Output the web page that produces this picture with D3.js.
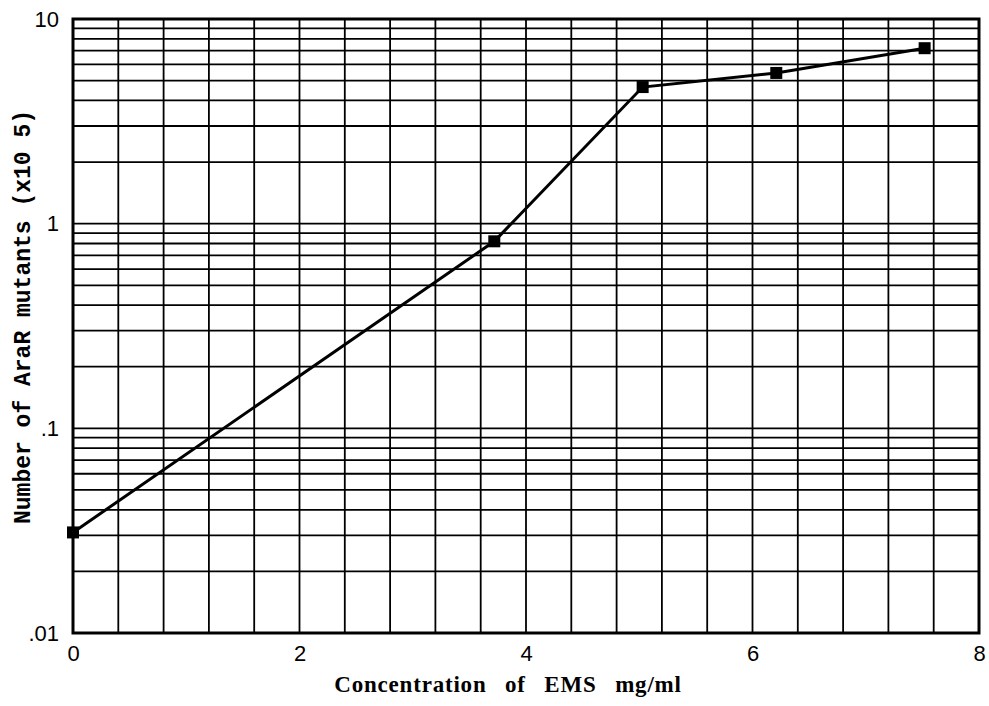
<!DOCTYPE html>
<html>
<head>
<meta charset="utf-8">
<script src="https://cdn.jsdelivr.net/npm/d3@7"></script>
<style>
    body { margin: 0; background: #fff; }
    svg { display: block; }
</style>
</head>
<body>
<svg id="chart" width="989" height="706"></svg>
<script>
    // EMS concentration (mg/ml) vs AraR mutants (x10^5)
    var concentration = [0, 3.72, 5.03, 6.21, 7.52];
    var mutants = [0.031, 0.82, 4.65, 5.45, 7.2];

    var xTicks = [0, 2, 4, 6, 8];
    var yTicks = [0.01, 0.1, 1, 10];
    var yTickLabels = ['.01', '.1', '1', '10'];

    var margin = {left: 73, top: 19, right: 10, bottom: 73};
    var width = 989 - margin.left - margin.right,
        height = 706 - margin.top - margin.bottom;

    var svg = d3.select('#chart');
    var g = svg.append('g')
        .attr('transform', 'translate(' + margin.left + ',' + margin.top + ')');

    var x = d3.scaleLinear().domain([0, 8]).range([0, width]);
    var y = d3.scaleLog().domain([0.01, 10]).range([height, 0]);

    // vertical grid every 0.4
    var xGrid = d3.range(1, 20).map(function(i) { return i * 0.4; });
    g.selectAll('.vgrid')
        .data(xGrid)
        .enter().append('line')
        .attr('class', 'vgrid')
        .attr('x1', function(d) { return x(d); })
        .attr('x2', function(d) { return x(d); })
        .attr('y1', 0)
        .attr('y2', height)
        .attr('stroke', '#000')
        .attr('stroke-width', 1.8);

    // horizontal log grid 1..9 per decade
    var yGrid = [];
    [0.01, 0.1, 1].forEach(function(dec) {
        for (var k = 2; k <= 9; k++) yGrid.push(dec * k);
        if (dec > 0.01) yGrid.push(dec);
    });
    g.selectAll('.hgrid')
        .data(yGrid)
        .enter().append('line')
        .attr('class', 'hgrid')
        .attr('x1', 0)
        .attr('x2', width)
        .attr('y1', function(d) { return y(d); })
        .attr('y2', function(d) { return y(d); })
        .attr('stroke', '#000')
        .attr('stroke-width', 1.8);

    // frame
    g.append('rect')
        .attr('width', width)
        .attr('height', height)
        .attr('fill', 'none')
        .attr('stroke', '#000')
        .attr('stroke-width', 3);

    // axes (labels only)
    function styleTicks(sel) {
        sel.select('.domain').remove();
        sel.attr('font-size', null).attr('font-family', null);
        sel.selectAll('text')
            .style('font-family', '"Liberation Sans", Arial, sans-serif')
            .style('font-size', '22px')
            .attr('fill', '#000');
    }

    var xAxis = d3.axisBottom(x).tickValues(xTicks).tickSize(0).tickPadding(12).tickFormat(d3.format('d'));
    var gx = g.append('g').attr('transform', 'translate(0,' + height + ')').call(xAxis);
    styleTicks(gx);

    var yAxis = d3.axisLeft(y).tickValues(yTicks).tickSize(0).tickPadding(14)
        .tickFormat(function(d, i) { return yTickLabels[i]; });
    var gy = g.append('g').call(yAxis);
    styleTicks(gy);

    // data line
    var pts = concentration.map(function(c, i) { return [c, mutants[i]]; });
    var line = d3.line()
        .x(function(d) { return x(d[0]); })
        .y(function(d) { return y(d[1]); });
    g.append('path')
        .datum(pts)
        .attr('d', line)
        .attr('fill', 'none')
        .attr('stroke', '#000')
        .attr('stroke-width', 3);

    var ms = 12;
    g.selectAll('.marker')
        .data(pts)
        .enter().append('rect')
        .attr('class', 'marker')
        .attr('x', function(d) { return x(d[0]) - ms / 2; })
        .attr('y', function(d) { return y(d[1]) - ms / 2; })
        .attr('width', ms)
        .attr('height', ms)
        .attr('fill', '#000');

    // titles
    svg.append('text')
        .attr('x', 508)
        .attr('y', 692)
        .attr('text-anchor', 'middle')
        .style('font-family', '"Liberation Serif", "Times New Roman", serif')
        .style('font-weight', 'bold')
        .style('font-size', '23px')
        .style('letter-spacing', '0.8px')
        .style('word-spacing', '12px')
        .text('Concentration of EMS mg/ml');

    svg.append('text')
        .attr('transform', 'translate(30,317) rotate(-90)')
        .attr('text-anchor', 'middle')
        .style('font-family', '"Liberation Mono", "Courier New", monospace')
        .style('font-weight', 'bold')
        .style('font-size', '23px')
        .text('Number of AraR mutants (x10 5)');
</script>
</body>
</html>
